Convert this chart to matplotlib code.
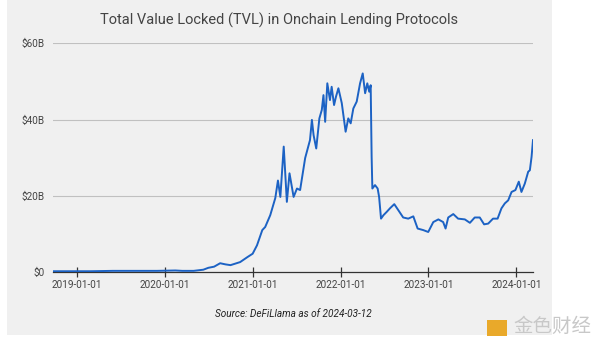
import matplotlib.pyplot as plt
from matplotlib.patches import Rectangle
import pandas as pd

# TVL of onchain lending protocols (billions USD)
dates = ["2018-09-25", "2018-12-01", "2019-03-01", "2019-06-01", "2019-09-01",
         "2019-12-01", "2020-02-15", "2020-03-15", "2020-05-01", "2020-06-10",
         "2020-07-01", "2020-07-25", "2020-08-19", "2020-09-10", "2020-10-01",
         "2020-11-10", "2020-12-10", "2021-01-01", "2021-01-19", "2021-02-10",
         "2021-02-22", "2021-03-15", "2021-04-05", "2021-04-16", "2021-04-26",
         "2021-05-10", "2021-05-23", "2021-06-03", "2021-06-20", "2021-07-04",
         "2021-07-17", "2021-08-07", "2021-08-27", "2021-09-04", "2021-09-11",
         "2021-09-22", "2021-10-05", "2021-10-15", "2021-10-22", "2021-10-29",
         "2021-11-07", "2021-11-18", "2021-11-25", "2021-12-05", "2021-12-13",
         "2021-12-23", "2022-01-06", "2022-01-22", "2022-02-02", "2022-02-12",
         "2022-02-23", "2022-03-09", "2022-03-23", "2022-04-03", "2022-04-13",
         "2022-04-22", "2022-04-30", "2022-05-06", "2022-05-10",
         "2022-05-13", "2022-05-24", "2022-06-04", "2022-06-10", "2022-06-18",
         "2022-06-28", "2022-07-12", "2022-07-25", "2022-08-12", "2022-08-29",
         "2022-09-18", "2022-10-09", "2022-10-30", "2022-11-17", "2022-12-10",
         "2022-12-31", "2023-01-21", "2023-02-11", "2023-03-03", "2023-03-13",
         "2023-03-24", "2023-04-14", "2023-05-04", "2023-06-01", "2023-06-22",
         "2023-07-12", "2023-08-02", "2023-08-20", "2023-09-06", "2023-09-26",
         "2023-10-15", "2023-10-31", "2023-11-14", "2023-11-28", "2023-12-12",
         "2023-12-28", "2024-01-11", "2024-01-22", "2024-02-05", "2024-02-19",
         "2024-02-26", "2024-03-04", "2024-03-10"]
tvl = [0.2, 0.2, 0.2, 0.3, 0.3,
       0.3, 0.4, 0.3, 0.3, 0.6,
       1.1, 1.4, 2.3, 2.0, 1.8,
       2.6, 3.9, 4.8, 7.0, 11.0,
       11.8, 14.9, 19.4, 24.0, 19.7,
       32.9, 18.4, 25.9, 19.7, 21.9,
       21.5, 29.9, 34.6, 39.9, 35.9,
       32.4, 40.3, 42.5, 46.4, 39.4,
       49.5, 45.1, 48.6, 43.8, 46.0,
       48.2, 44.3, 36.8, 40.3, 39.0,
       42.9, 44.7, 49.5, 52.1, 46.9,
       49.5, 47.3, 49.0, 30.2,
       21.9, 22.8, 21.9, 19.7, 14.0,
       14.9, 15.8, 16.7, 17.8, 16.2,
       14.3, 14.0, 14.6, 11.4, 11.0,
       10.5, 13.1, 13.8, 13.1, 11.4,
       14.3, 15.2, 14.0, 13.8, 12.9,
       14.3, 14.3, 12.5, 12.7, 14.0,
       14.0, 16.7, 18.0, 18.8, 21.0,
       21.5, 23.7, 21.0, 23.2, 26.3,
       26.7, 30.2, 34.6]

y_ticks = [0, 20, 40, 60]
y_labels = ["$0", "$20B", "$40B", "$60B"]
x_ticks = ["2019-01-01", "2020-01-01", "2021-01-01", "2022-01-01", "2023-01-01", "2024-01-01"]

df = pd.DataFrame({"date": pd.to_datetime(dates), "tvl": tvl})

plt.rcParams["font.family"] = ["Roboto", "DejaVu Sans"]

fig = plt.figure(figsize=(6, 3.39), dpi=100)
fig.patch.set_facecolor("white")
# gray panel behind the chart
panel = Rectangle((7 / 600, 4 / 339), 545 / 600, 335 / 339,
                  transform=fig.transFigure, facecolor="#f0f0f0",
                  edgecolor="none", zorder=-10)
fig.add_artist(panel)

ax = fig.add_axes([53 / 600, 1 - 272 / 339, 480 / 600, (272 - 43.3) / 339])
ax.set_facecolor("none")
ax.set_zorder(1)

ax.plot(df["date"], df["tvl"], color="#1c62c4", linewidth=1.4, zorder=3)

ax.set_ylim(0, 60)
ax.set_xlim(pd.Timestamp("2018-09-25"), pd.Timestamp("2024-03-10"))
ax.set_yticks(y_ticks)
ax.set_yticklabels(y_labels)
ax.set_xticks(pd.to_datetime(x_ticks))
ax.set_xticklabels(x_ticks)

for v in y_ticks[1:]:
    ax.axhline(v, color="#c0c0c0", linewidth=0.8, zorder=1)

for s in ["top", "right", "left"]:
    ax.spines[s].set_visible(False)
ax.spines["bottom"].set_color("#333333")
ax.spines["bottom"].set_linewidth(0.9)

ax.tick_params(axis="y", length=0, pad=6, labelsize=7.2, labelcolor="#444444")
ax.tick_params(axis="x", direction="inout", length=7, width=0.9, color="#333333",
               pad=2, labelsize=7.2, labelcolor="#444444")

fig.text(279.5 / 600, 1 - 20 / 339, "Total Value Locked (TVL) in Onchain Lending Protocols",
         ha="center", va="center", fontsize=10.5, color="#444444")
fig.text(293 / 600, 1 - 314 / 339, "Source: DeFiLlama as of 2024-03-12",
         ha="center", va="center", fontsize=7.2, style="italic", color="#222222")

# watermark
logo = Rectangle((487 / 600, 1 - 336 / 339), 20 / 600, 16 / 339,
                 transform=fig.transFigure, facecolor="#e9a92a",
                 edgecolor="none", zorder=2)
fig.add_artist(logo)
fig.text(552 / 600, 1 - 326 / 339, "金色财经", ha="center", va="center",
         fontsize=14, color="#c8c8c8", family=["Noto Sans CJK SC", "DejaVu Sans"])

fig.savefig("out.png", dpi=100)
